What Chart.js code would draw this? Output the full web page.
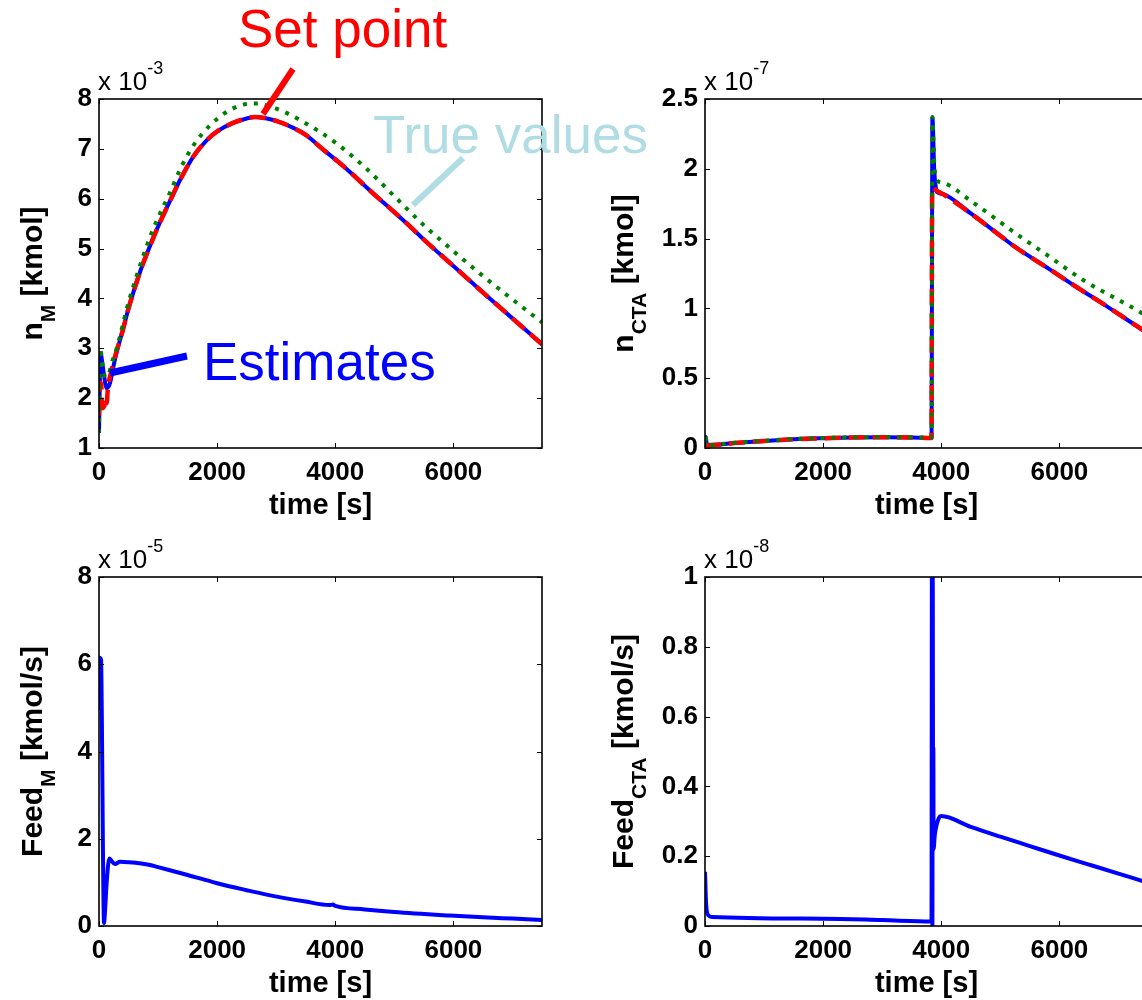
<!DOCTYPE html>
<html><head><meta charset="utf-8">
<script src="https://cdn.jsdelivr.net/npm/chart.js@4.4.0/dist/chart.umd.min.js"></script>
<style>
html,body{margin:0;padding:0;background:#fff;width:1142px;height:1000px;overflow:hidden;position:relative}
canvas{position:absolute}
</style></head><body>
<canvas id="c2" width="600" height="520" style="left:560px;top:0;z-index:1"></canvas>
<canvas id="c4" width="600" height="480" style="left:560px;top:520px;z-index:1"></canvas>
<canvas id="c3" width="560" height="480" style="left:0;top:520px;z-index:2"></canvas>
<canvas id="c1" width="700" height="520" style="left:0;top:0;z-index:4"></canvas>
<script>
// ---------- tick values ----------
const timeTicks = [0, 2000, 4000, 6000];
const nM_ticks = [1, 2, 3, 4, 5, 6, 7, 8];          // x 10^-3
const nCTA_ticks = [0, 0.5, 1, 1.5, 2, 2.5];        // x 10^-7
const feedM_ticks = [0, 2, 4, 6, 8];                // x 10^-5
const feedCTA_ticks = [0, 0.2, 0.4, 0.6, 0.8, 1];   // x 10^-8

// ---------- n_M [kmol] (x 10^-3) : [time s, value] ----------
const nM_setpoint = [[0,1.65],[15,2.3],[35,2.3],[55,1.8],[90,1.85],[110,2.0],[130,1.9],[150,2.2],[200,2.5],[270,2.83],[400,3.35],[500,3.8],[700,4.55],[914,5.2],[1030,5.52],[1200,5.95],[1370,6.37],[1600,6.85],[1830,7.18],[2000,7.35],[2270,7.52],[2500,7.61],[2640,7.64],[2800,7.62],[3000,7.56],[3290,7.42],[3500,7.28],[3800,6.98],[4050,6.74],[4300,6.48],[4600,6.15],[5000,5.73],[5260,5.45],[5500,5.18],[6000,4.65],[6500,4.12],[7000,3.6],[7500,3.08]];
const nM_estimate = [[0,1.3],[15,2.4],[30,2.9],[45,2.8],[73,2.56],[130,2.2],[186,2.3],[243,2.63],[300,2.92],[400,3.35],[500,3.8],[700,4.55],[914,5.2],[1030,5.52],[1200,5.95],[1370,6.37],[1600,6.85],[1830,7.18],[2000,7.35],[2270,7.52],[2500,7.61],[2640,7.64],[2800,7.62],[3000,7.56],[3290,7.42],[3500,7.28],[3800,6.98],[4050,6.74],[4300,6.48],[4600,6.15],[5000,5.73],[5260,5.45],[5500,5.18],[6000,4.65],[6500,4.12],[7000,3.6],[7500,3.08]];
const nM_true = [[0,1.3],[10,2.4],[22,3.0],[50,2.75],[110,2.42],[170,2.5],[215,2.7],[300,3.0],[500,3.92],[700,4.68],[896,5.33],[1000,5.62],[1200,6.12],[1370,6.58],[1560,7.0],[1760,7.32],[2000,7.6],[2250,7.8],[2500,7.9],[2700,7.91],[2840,7.87],[3100,7.76],[3400,7.58],[3700,7.37],[4030,7.1],[4530,6.6],[5000,6.05],[5480,5.49],[6000,4.95],[6500,4.45],[7000,3.98],[7500,3.52]];

// ---------- n_CTA [kmol] (x 10^-7) ----------
const nCTA_setpoint = [[0,0.02],[250,0.025],[500,0.035],[1000,0.05],[1500,0.063],[2000,0.07],[2500,0.075],[3000,0.077],[3500,0.075],[3835,0.072],[3845,1.87],[3900,1.85],[4024,1.82],[4500,1.68],[5000,1.52],[5251,1.44],[5836,1.28],[6300,1.15],[6713,1.04],[7000,0.96],[7500,0.82]];
const nCTA_estimate = [[0,0.02],[8,0.08],[30,0.03],[100,0.02],[250,0.025],[500,0.035],[1000,0.05],[1500,0.063],[2000,0.07],[2500,0.075],[3000,0.077],[3500,0.075],[3835,0.072],[3850,2.37],[3880,2.0],[3910,1.86],[3940,1.83],[4024,1.82],[4500,1.68],[5000,1.52],[5251,1.44],[5836,1.28],[6300,1.15],[6713,1.04],[7000,0.96],[7500,0.82]];
const nCTA_true = [[0,0.02],[8,0.09],[30,0.035],[100,0.022],[250,0.027],[500,0.037],[1000,0.052],[1500,0.065],[2000,0.072],[2500,0.077],[3000,0.078],[3500,0.077],[3835,0.074],[3850,2.37],[3880,2.05],[3910,1.93],[4024,1.9],[4500,1.77],[5251,1.54],[5800,1.38],[6414,1.2],[7176,1.02],[7500,0.94]];

// ---------- Feed_M [kmol/s] (x 10^-5) ----------
const feedM = [[0,4.95],[10,6.15],[35,6.1],[50,4.5],[65,2.0],[85,0.07],[100,0.3],[130,1.0],[175,1.55],[210,1.5],[270,1.42],[355,1.47],[500,1.46],[863,1.4],[1000,1.35],[1500,1.17],[2000,0.98],[2500,0.82],[2837,0.72],[3500,0.56],[3900,0.48],[3960,0.49],[4000,0.46],[4500,0.38],[5000,0.32],[5940,0.24],[6500,0.2],[7000,0.17],[7500,0.14]];

// ---------- Feed_CTA [kmol/s] (x 10^-8) ----------
const feedCTA = [[0,0.155],[20,0.06],[60,0.03],[120,0.026],[2000,0.021],[3000,0.017],[3835,0.013],[3842,1.05],[3850,0.0],[3855,1.05],[3862,0.22],[3866,0.51],[3870,0.22],[3890,0.26],[3960,0.31],[4000,0.315],[4500,0.284],[5000,0.256],[5500,0.229],[6000,0.202],[6500,0.176],[7000,0.15],[7500,0.124]];

// ---------- helpers ----------
const FONT = '"Liberation Sans", Arial, Helvetica, sans-serif';
const toXY = arr => arr.map(p => ({x: p[0], y: p[1]}));

function drawYLabel(ctx, x, yc, main, sub, rest, size) {
  ctx.save();
  ctx.translate(x, yc); ctx.rotate(-Math.PI / 2);
  const f1 = `bold ${size}px ${FONT}`, f2 = `bold ${Math.round(size * 0.7)}px ${FONT}`;
  ctx.font = f1; const w1 = ctx.measureText(main).width, w3 = ctx.measureText(rest).width;
  ctx.font = f2; const w2 = ctx.measureText(sub).width;
  let s = -(w1 + w2 + w3) / 2;
  ctx.fillStyle = '#000'; ctx.textAlign = 'left'; ctx.textBaseline = 'alphabetic';
  ctx.font = f1; ctx.fillText(main, s, 0);
  ctx.font = f2; ctx.fillText(sub, s + w1, 13);
  ctx.font = f1; ctx.fillText(rest, s + w1 + w2, 0);
  ctx.restore();
}

function decor(o) {
  return {
    id: 'decor',
    afterDraw(chart) {
      const ctx = chart.ctx, a = chart.chartArea;
      const xs = chart.scales.x, ys = chart.scales.y;
      ctx.save();
      // inward ticks
      ctx.strokeStyle = '#000'; ctx.lineWidth = 1;
      ctx.beginPath();
      xs.ticks.forEach(t => {
        const px = Math.round(xs.getPixelForValue(t.value)) + 0.5;
        ctx.moveTo(px, a.bottom); ctx.lineTo(px, a.bottom - 5);
        ctx.moveTo(px, a.top); ctx.lineTo(px, a.top + 5);
      });
      ys.ticks.forEach(t => {
        const py = Math.round(ys.getPixelForValue(t.value)) + 0.5;
        ctx.moveTo(a.left, py); ctx.lineTo(a.left + 5, py);
        ctx.moveTo(a.right, py); ctx.lineTo(a.right - 5, py);
      });
      ctx.stroke();
      // frame
      ctx.lineWidth = 1.6;
      ctx.strokeRect(a.left, a.top, a.right - a.left, a.bottom - a.top);
      // exponent
      ctx.fillStyle = '#000'; ctx.textAlign = 'left'; ctx.textBaseline = 'alphabetic';
      ctx.font = `26px ${FONT}`;
      ctx.fillText('x 10', a.left - 1, a.top - 9);
      const w = ctx.measureText('x 10').width;
      ctx.font = `18px ${FONT}`;
      ctx.fillText(o.exp, a.left - 1 + w, a.top - 25);
      // x title
      ctx.font = `bold 29px ${FONT}`; ctx.textAlign = 'center';
      ctx.fillText('time [s]', (a.left + a.right) / 2, a.bottom + 66);
      // y title
      drawYLabel(ctx, a.left - o.ylabOff, (a.top + a.bottom) / 2, o.yl[0], o.yl[1], o.yl[2], 30);
      if (o.extra) o.extra(ctx);
      ctx.restore();
    }
  };
}

function makeChart(id, datasets, yTicks, o) {
  const tickFont = {family: FONT, size: 26, weight: 'bold'};
  return new Chart(document.getElementById(id), {
    type: 'line',
    data: {datasets},
    options: {
      responsive: false, animation: false, devicePixelRatio: 1,
      layout: {padding: {top: o.padTop, right: o.padRight, left: 0, bottom: 0}},
      elements: {point: {radius: 0}, line: {tension: 0}},
      plugins: {legend: {display: false}, tooltip: {enabled: false}},
      scales: {
        x: {
          type: 'linear', min: 0, max: 7500,
          grid: {display: false, drawTicks: false}, border: {display: false},
          afterBuildTicks: s => { s.ticks = timeTicks.map(v => ({value: v})); },
          afterFit: s => { s.height = o.xH; },
          ticks: {font: tickFont, color: '#000', padding: 9, autoSkip: false, maxRotation: 0,
                  callback: v => String(v)}
        },
        y: {
          type: 'linear', min: yTicks[0], max: yTicks[yTicks.length - 1],
          grid: {display: false, drawTicks: false}, border: {display: false},
          afterBuildTicks: s => { s.ticks = yTicks.map(v => ({value: v})); },
          afterFit: s => { s.width = o.yW; },
          ticks: {font: tickFont, color: '#000', padding: 7, autoSkip: false,
                  callback: v => String(v)}
        }
      }
    },
    plugins: [decor(o)]
  });
}

const GREEN = '#008000', RED = '#ff0000', BLUE = '#0000ff';
const trueDS = d => ({data: toXY(d), borderColor: GREEN, borderWidth: 4, borderDash: [4, 7], borderCapStyle: 'butt', cubicInterpolationMode: 'monotone', fill: false});
const setDS = d => ({data: toXY(d), borderColor: RED, borderWidth: 4.5, borderDash: [16, 8], borderCapStyle: 'butt', cubicInterpolationMode: 'monotone', fill: false});
const estDS = d => ({data: toXY(d), borderColor: BLUE, borderWidth: 4, cubicInterpolationMode: 'monotone', fill: false});

// top-left: n_M
makeChart('c1', [trueDS(nM_true), setDS(nM_setpoint), estDS(nM_estimate)], nM_ticks, {
  padTop: 99, padRight: 158, yW: 99, xH: 72, exp: '-3', ylabOff: 57, yl: ['n', 'M', ' [kmol]'],
  extra: ctx => {
    ctx.lineCap = 'butt';
    ctx.textAlign = 'left'; ctx.textBaseline = 'alphabetic';
    ctx.font = `53px ${FONT}`;
    ctx.fillStyle = RED; ctx.fillText('Set point', 238, 47);
    ctx.fillStyle = '#b0dde3'; ctx.fillText('True values', 373, 153);
    ctx.fillStyle = BLUE; ctx.fillText('Estimates', 203, 380);
    ctx.lineWidth = 6;
    ctx.strokeStyle = RED; ctx.beginPath(); ctx.moveTo(293, 69); ctx.lineTo(263, 114); ctx.stroke();
    ctx.strokeStyle = '#b0dde3'; ctx.beginPath(); ctx.moveTo(413, 205); ctx.lineTo(463, 158); ctx.stroke();
    ctx.lineWidth = 7;
    ctx.strokeStyle = BLUE; ctx.beginPath(); ctx.moveTo(110, 373); ctx.lineTo(187, 356); ctx.stroke();
  }
});
// top-right: n_CTA
makeChart('c2', [trueDS(nCTA_true), setDS(nCTA_setpoint), estDS(nCTA_estimate)], nCTA_ticks, {
  padTop: 99, padRight: 12, yW: 145, xH: 72, exp: '-7', ylabOff: 72, yl: ['n', 'CTA', ' [kmol]']
});
// bottom-left: Feed_M
makeChart('c3', [estDS(feedM)], feedM_ticks, {
  padTop: 57, padRight: 18, yW: 99, xH: 74, exp: '-5', ylabOff: 57, yl: ['Feed', 'M', ' [kmol/s]']
});
// bottom-right: Feed_CTA
makeChart('c4', [estDS(feedCTA)], feedCTA_ticks, {
  padTop: 57, padRight: 12, yW: 145, xH: 74, exp: '-8', ylabOff: 72, yl: ['Feed', 'CTA', ' [kmol/s]']
});
</script>
</body></html>
